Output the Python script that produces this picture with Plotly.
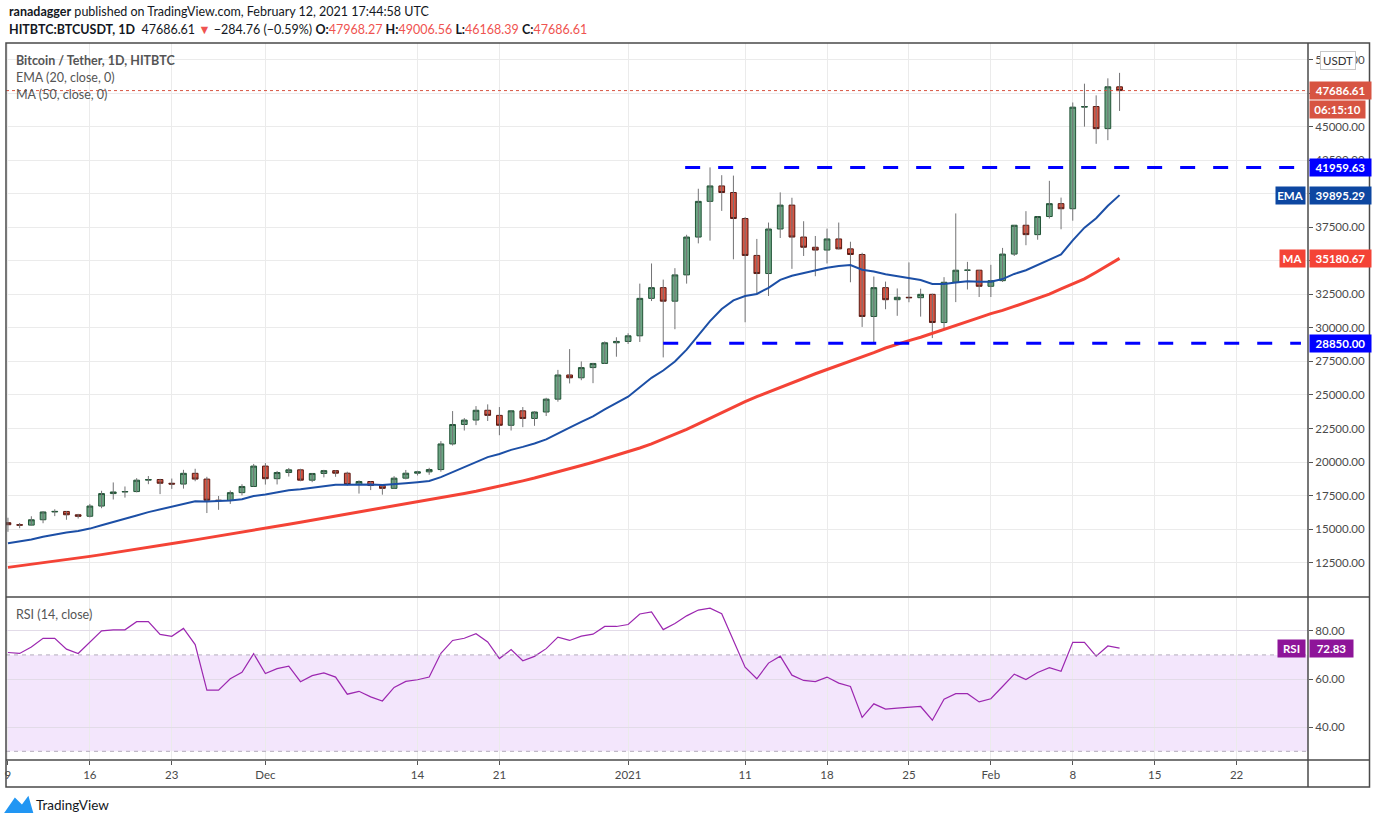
import pandas as pd
import plotly.graph_objects as go

# HITBTC:BTCUSDT daily candles, 9 Nov 2020 .. 12 Feb 2021
dates = pd.date_range("2020-11-09", "2021-02-12", freq="D")

opens = [15480, 15330, 15300, 15700, 16280, 16320, 16070, 15960, 16720, 17650,
         17770, 17800, 18650, 18700, 18420, 18360, 19160, 18730, 17150, 17140,
         17720, 18180, 19700, 18760, 19220, 19420, 18650, 19150, 19360, 19170,
         18320, 18550, 18250, 18040, 18800, 19170, 19270, 19440, 21350, 22800,
         23130, 23860, 23480, 22740, 23820, 23250, 23730, 24690, 26490, 26280,
         27040, 27350, 28890, 28990, 29410, 32200, 33000, 31990, 33950, 36770,
         39430, 40580, 40090, 38150, 35400, 34050, 37370, 39150, 36770, 36010,
         35800, 36630, 35890, 35470, 30850, 33000, 32100, 32280, 32250, 32500,
         30400, 33400, 34300, 34300, 33100, 33520, 35500, 37650, 36950, 38300,
         39260, 38880, 46450, 46500, 44850, 47968.27]
highs = [15850, 15460, 15960, 16340, 16480, 16330, 16140, 16880, 17860, 18480,
         18180, 18800, 18960, 18750, 18770, 19420, 19500, 18900, 17470, 17880,
         18350, 19860, 19920, 19340, 19560, 19500, 19170, 19420, 19390, 19280,
         18640, 18560, 18290, 18950, 19410, 19350, 19570, 21560, 23800, 23280,
         24170, 24300, 24100, 23840, 24100, 23790, 24790, 26870, 28420, 27500,
         27390, 28990, 29300, 29600, 33300, 34800, 33600, 34450, 36940, 40370,
         41960, 41380, 41350, 38260, 36630, 37850, 40100, 39700, 37950, 36850,
         37400, 37850, 36420, 35600, 33830, 33450, 32940, 34880, 32920, 32550,
         33780, 38530, 34920, 34320, 34700, 35960, 37660, 38700, 38300, 40960,
         39710, 46800, 48200, 47330, 48600, 49006.56]
lows = [14800, 15070, 15280, 15440, 15970, 15700, 15790, 15870, 16560, 17210,
        17350, 17740, 18350, 17610, 18000, 18020, 18570, 16200, 16440, 16880,
        17520, 18180, 18320, 18330, 18920, 18570, 18500, 18860, 18900, 18230,
        17650, 17910, 17570, 18020, 18710, 19000, 19050, 19280, 21230, 22350,
        22750, 23060, 22000, 22350, 22600, 22700, 23430, 24500, 25860, 26100,
        25880, 27320, 27850, 28800, 28950, 32000, 27800, 29900, 33300, 36300,
        36500, 38720, 35110, 30420, 32530, 32380, 36700, 34400, 35360, 33850,
        34800, 35850, 33400, 30070, 28850, 31390, 30900, 31910, 30840, 29240,
        29860, 31920, 32860, 32300, 32300, 33420, 35360, 36160, 36570, 38150,
        37350, 37990, 45000, 43720, 43990, 46168.39]
closes = [15330, 15300, 15700, 16280, 16320, 16070, 15960, 16720, 17650, 17770,
          17800, 18650, 18700, 18420, 18360, 19160, 18730, 17150, 17140, 17720,
          18180, 19700, 18760, 19220, 19420, 18650, 19150, 19360, 19170, 18320,
          18550, 18250, 18040, 18800, 19170, 19270, 19440, 21350, 22800, 23130,
          23860, 23480, 22740, 23820, 23250, 23730, 24690, 26490, 26280, 27040,
          27350, 28890, 28990, 29410, 32200, 33000, 31990, 33950, 36770, 39430,
          40580, 40090, 38150, 35400, 34050, 37370, 39150, 36770, 36010, 35800,
          36630, 35890, 35470, 30850, 33000, 32100, 32280, 32250, 32500, 30400,
          33400, 34300, 34300, 33100, 33520, 35500, 37650, 36950, 38300, 39260,
          38880, 46450, 46500, 44850, 47970, 47686.61]

ema20 = [13950, 14080, 14230, 14430, 14610, 14750, 14860, 15040, 15290, 15520,
         15740, 16020, 16270, 16480, 16660, 16900, 17070, 17060, 17070, 17130,
         17230, 17470, 17590, 17740, 17900, 17970, 18090, 18210, 18300, 18300,
         18320, 18320, 18290, 18340, 18420, 18500, 18590, 18880, 19260, 19640,
         20040, 20370, 20600, 20910, 21130, 21380, 21690, 22150, 22560, 22990,
         23410, 23930, 24420, 24870, 25570, 26280, 26820, 27500, 28380, 29440,
         30500, 31410, 32050, 32370, 32530, 32990, 33580, 33880, 34090, 34250,
         34480, 34610, 34690, 34330, 34200, 34000, 33840, 33690, 33570, 33270,
         33280, 33380, 33470, 33430, 33440, 33640, 34020, 34300, 34680, 35110,
         35470, 36520, 37470, 38170, 39100, 39895.29]
ma50 = [12150, 12260, 12370, 12490, 12610, 12730, 12850, 12970, 13100, 13230,
        13360, 13500, 13640, 13780, 13920, 14060, 14200, 14340, 14480, 14620,
        14770, 14920, 15070, 15220, 15370, 15520, 15670, 15820, 15970, 16120,
        16270, 16420, 16570, 16720, 16870, 17020, 17170, 17330, 17490, 17660,
        17830, 18010, 18200, 18400, 18600, 18810, 19030, 19260, 19490, 19740,
        19990, 20250, 20510, 20780, 21050, 21350, 21700, 22050, 22440, 22850,
        23270, 23690, 24100, 24500, 24880, 25230, 25580, 25920, 26260, 26580,
        26900, 27200, 27500, 27820, 28150, 28500, 28800, 29050, 29300, 29580,
        29870, 30160, 30460, 30760, 31060, 31300, 31600, 31900, 32200, 32520,
        32900, 33250, 33650, 34150, 34650, 35180.67]
rsi14 = [71.0, 70.6, 73.3, 76.9, 76.9, 72.4, 70.6, 75.4, 80.0, 80.4,
         80.4, 83.8, 83.8, 78.5, 77.7, 81.0, 74.3, 55.4, 55.4, 60.1,
         62.8, 70.5, 62.3, 64.3, 65.3, 58.9, 61.4, 62.5, 60.8, 53.7,
         54.9, 52.6, 50.9, 56.5, 59.0, 59.7, 60.8, 70.7, 76.0, 76.9,
         78.8, 75.4, 68.5, 72.2, 67.6, 69.4, 72.6, 77.4, 76.0, 77.8,
         78.6, 81.8, 81.8, 82.6, 87.0, 87.8, 80.5, 83.0, 86.2, 88.6,
         89.4, 87.1, 75.8, 64.9, 60.1, 66.6, 69.5, 61.6, 59.4, 58.9,
         60.8, 58.3, 56.9, 44.1, 49.7, 47.5, 47.9, 48.1, 48.6, 42.9,
         51.6, 53.9, 53.9, 50.5, 51.8, 56.9, 62.0, 59.8, 62.7, 64.7,
         63.2, 75.2, 75.2, 69.5, 73.7, 72.83]

tick_dates = ["2020-11-09", "2020-11-16", "2020-11-23", "2020-12-01", "2020-12-14",
              "2020-12-21", "2021-01-01", "2021-01-11", "2021-01-18", "2021-01-25",
              "2021-02-01", "2021-02-08", "2021-02-15", "2021-02-22"]
tick_labels = ["9", "16", "23", "Dec", "14", "21", "2021", "11", "18", "25",
               "Feb", "8", "15", "22"]

resistance = 41959.63
support = 28850.00
resistance_start = "2021-01-05 21:00"
support_start = "2021-01-04 00:00"
levels_end = "2021-02-27 12:00"
countdown = "06:15:10"

FONT = "Lato, 'Open Sans', sans-serif"
GRID = "#ebebeb"
FRAME = "#4a4a4a"
GREEN, GREEN_EDGE = "#6ba583", "#225437"
RED, RED_EDGE = "#d75442", "#5b1a13"


def px_x(px):
    return (px - 6) / 1302.0


def px_y(py):
    return (760 - py) / 717.0


body_top = [max(o, c) for o, c in zip(opens, closes)]
body_bot = [min(o, c) for o, c in zip(opens, closes)]
wick_x, wick_y = [], []
for d, lo, hi in zip(dates, lows, highs):
    wick_x += [d, d, None]
    wick_y += [lo, hi, None]

fig = go.Figure()
fig.add_trace(go.Scatter(x=wick_x, y=wick_y, mode="lines",
                         line=dict(color="#737375", width=1), hoverinfo="skip",
                         xaxis="x", yaxis="y"))
fig.add_trace(go.Candlestick(x=dates, open=opens, high=body_top, low=body_bot,
                             close=closes, whiskerwidth=0,
                             increasing=dict(line=dict(color=GREEN_EDGE, width=1), fillcolor=GREEN),
                             decreasing=dict(line=dict(color=RED_EDGE, width=1), fillcolor=RED),
                             xaxis="x", yaxis="y"))
fig.add_trace(go.Scatter(x=dates, y=ma50, mode="lines",
                         line=dict(color="#f44336", width=3), xaxis="x", yaxis="y"))
fig.add_trace(go.Scatter(x=dates, y=ema20, mode="lines",
                         line=dict(color="#1c4fa6", width=2), xaxis="x", yaxis="y"))
fig.add_trace(go.Scatter(x=dates, y=rsi14, mode="lines",
                         line=dict(color="#9c27b0", width=1.2), xaxis="x2", yaxis="y2"))

x_range = ["2020-11-08 20:00", "2021-02-28 02:30"]

shapes = [
    # RSI band and its bounds
    dict(type="rect", xref="paper", yref="y2", x0=0, x1=1, y0=30, y1=70,
         fillcolor="#f3e6fc", line=dict(width=0), layer="below"),
    dict(type="line", xref="paper", yref="y2", x0=0, x1=1, y0=70, y1=70,
         line=dict(color="#b4acbc", width=1, dash="4px,4px")),
    dict(type="line", xref="paper", yref="y2", x0=0, x1=1, y0=30, y1=30,
         line=dict(color="#b4acbc", width=1, dash="4px,4px")),
    # horizontal levels
    dict(type="line", xref="x", yref="y", x0=resistance_start, x1=levels_end,
         y0=resistance, y1=resistance, line=dict(color="#0000ff", width=3, dash="15px,18px")),
    dict(type="line", xref="x", yref="y", x0=support_start, x1=levels_end,
         y0=support, y1=support, line=dict(color="#0000ff", width=3, dash="15px,18px")),
    dict(type="line", xref="paper", yref="y", x0=0, x1=1, y0=closes[-1], y1=closes[-1],
         line=dict(color=RED, width=1, dash="dot")),
    # frame
    dict(type="rect", xref="paper", yref="paper", x0=px_x(6), x1=px_x(1369.5),
         y0=px_y(787), y1=px_y(43), line=dict(color=FRAME, width=1.5)),
    dict(type="line", xref="paper", yref="paper", x0=px_x(1308), x1=px_x(1308),
         y0=px_y(787), y1=px_y(43), line=dict(color=FRAME, width=1.5)),
    dict(type="line", xref="paper", yref="paper", x0=px_x(6), x1=px_x(1369.5),
         y0=px_y(597), y1=px_y(597), line=dict(color=FRAME, width=1.5)),
    dict(type="line", xref="paper", yref="paper", x0=px_x(6), x1=px_x(1369.5),
         y0=px_y(760), y1=px_y(760), line=dict(color=FRAME, width=1.5)),
    # TradingView logo
    dict(type="path", xref="paper", yref="paper",
         path="M {a},{b} L {c},{d} L {e},{f} L {g},{h} L {i},{j} Z".format(
             a=px_x(6), b=px_y(812), c=px_x(15), d=px_y(799), e=px_x(22), f=px_y(806),
             g=px_x(28), h=px_y(798), i=px_x(32), j=px_y(812)),
         fillcolor="#2196f3", line=dict(color="#2196f3", width=2)),
]


def tag(text, y, color, yref="y", width=58, yshift=0, xanchor="left"):
    return dict(text="<b>%s</b>" % text, xref="paper", yref=yref, x=1, y=y,
                xanchor=xanchor, yanchor="middle", showarrow=False,
                xshift=1 if xanchor == "left" else -2, yshift=yshift,
                bgcolor=color, width=width, height=14, borderpad=1.5,
                font=dict(family=FONT, size=11.5, color="white"))


red_txt = "<span style='color:#ef5350'>%s</span>"
line2 = ("<b>HITBTC:BTCUSDT, 1D</b>  47686.61 " + red_txt % "▼" +
         " −284.76 (−0.59%) <b>O:</b>" + red_txt % "47968.27" +
         " <b>H:</b>" + red_txt % "49006.56" +
         " <b>L:</b>" + red_txt % "46168.39" +
         " <b>C:</b>" + red_txt % "47686.61")

annotations = [
    dict(text="<b>ranadagger</b> published on TradingView.com, February 12, 2021 17:44:58 UTC",
         xref="paper", yref="paper", x=px_x(7), y=px_y(12), xanchor="left", yanchor="middle",
         showarrow=False, font=dict(family=FONT, size=12.5, color="#131722")),
    dict(text=line2, xref="paper", yref="paper", x=px_x(7), y=px_y(29), xanchor="left",
         yanchor="middle", showarrow=False, font=dict(family=FONT, size=12.5, color="#131722")),
    dict(text="<b>Bitcoin / Tether, 1D, HITBTC</b>", xref="paper", yref="paper",
         x=px_x(14), y=px_y(60), xanchor="left", yanchor="middle", showarrow=False,
         font=dict(family=FONT, size=12.5, color="#555555")),
    dict(text="EMA (20, close, 0)", xref="paper", yref="paper", x=px_x(14), y=px_y(77),
         xanchor="left", yanchor="middle", showarrow=False,
         font=dict(family=FONT, size=12.5, color="#555555")),
    dict(text="MA (50, close, 0)", xref="paper", yref="paper", x=px_x(14), y=px_y(94),
         xanchor="left", yanchor="middle", showarrow=False,
         font=dict(family=FONT, size=12.5, color="#555555")),
    dict(text="RSI (14, close)", xref="paper", yref="paper", x=px_x(14), y=px_y(614),
         xanchor="left", yanchor="middle", showarrow=False,
         font=dict(family=FONT, size=12.5, color="#555555")),
    dict(text="TradingView", xref="paper", yref="paper", x=px_x(34), y=px_y(805),
         xanchor="left", yanchor="middle", showarrow=False,
         font=dict(family=FONT, size=13.5, color="#131722")),
    dict(text="USDT", xref="paper", yref="paper", x=px_x(1320), y=px_y(61),
         xanchor="left", yanchor="middle", showarrow=False, bgcolor="white",
         bordercolor="#c8c8c8", borderwidth=1, borderpad=2, width=30,
         font=dict(family=FONT, size=11.5, color="#333333")),
    tag("%.2f" % closes[-1], closes[-1], RED, width=58),
    tag(countdown, closes[-1], RED, width=52, yshift=-19),
    tag("%.2f" % resistance, resistance, "#0000ff"),
    tag("%.2f" % ema20[-1], ema20[-1], "#0d47a1"),
    tag("EMA", ema20[-1], "#0d47a1", width=26, xanchor="right"),
    tag("%.2f" % ma50[-1], ma50[-1], "#f44336"),
    tag("MA", ma50[-1], "#f44336", width=22, xanchor="right"),
    tag("%.2f" % support, support, "#0000ff"),
    tag("%.2f" % rsi14[-1], rsi14[-1], "#8e1599", yref="y2", width=40),
    tag("RSI", rsi14[-1], "#8e1599", yref="y2", width=24, xanchor="right"),
]

axis_font = dict(family=FONT, size=11.5, color="#4a4a4a")
fig.update_layout(
    width=1376, height=824,
    margin=dict(l=6, r=68, t=43, b=64),
    paper_bgcolor="white", plot_bgcolor="white",
    showlegend=False,
    font=dict(family=FONT, size=12, color="#4a4a4a"),
    xaxis=dict(domain=[0, 1], anchor="y", type="date", range=x_range,
               tickvals=tick_dates, showticklabels=False, showgrid=True,
               gridcolor=GRID, zeroline=False, showline=False, ticks="",
               rangeslider=dict(visible=False)),
    xaxis2=dict(domain=[0, 1], anchor="y2", type="date", range=x_range, matches="x",
                tickvals=tick_dates, ticktext=tick_labels, ticks="outside", ticklen=4,
                tickcolor="#555555", showgrid=True, gridcolor=GRID, zeroline=False,
                showline=False, tickfont=axis_font),
    yaxis=dict(domain=[0.2287, 1], range=[10015, 51233], side="right", anchor="x",
               tick0=0, dtick=2500, tickformat=".2f", ticks="outside", ticklen=4,
               tickcolor="#555555", gridcolor=GRID, zeroline=False, showline=False,
               tickfont=axis_font),
    yaxis2=dict(domain=[0, 0.2259], range=[26.4, 93.6], side="right", anchor="x2",
                tickvals=[40, 60, 80], tickformat=".2f", ticks="outside", ticklen=4,
                tickcolor="#555555", gridcolor="#e2dbe8", zeroline=False, showline=False,
                tickfont=axis_font),
    shapes=shapes,
    annotations=annotations,
)

# drop the browser's default 8px body margin so the figure sits at the page corner
fig.write_html("out.html", config={"displayModeBar": False},
               post_script="document.body.style.margin='0';")
